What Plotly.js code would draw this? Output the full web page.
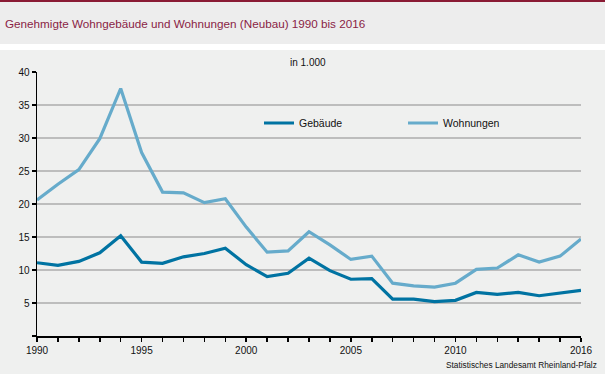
<!DOCTYPE html>
<html>
<head>
<meta charset="utf-8">
<script src="https://cdn.plot.ly/plotly-3.0.1.min.js"></script>
<style>html,body{margin:0;padding:0;background:#fff;}#chart{width:605px;height:374px;}</style>
</head>
<body>
<div id="chart"></div>
<script>
const years = [1990,1991,1992,1993,1994,1995,1996,1997,1998,1999,2000,2001,2002,2003,2004,2005,2006,2007,2008,2009,2010,2011,2012,2013,2014,2015,2016];
const gebaeude = [11.1,10.7,11.3,12.6,15.2,11.2,11.0,12.0,12.5,13.3,10.8,9.0,9.5,11.8,9.9,8.6,8.7,5.6,5.6,5.2,5.4,6.6,6.3,6.6,6.1,6.5,6.9];
const wohnungen = [20.6,23.0,25.2,29.9,37.5,27.8,21.8,21.7,20.2,20.8,16.5,12.7,12.9,15.8,13.8,11.6,12.1,8.0,7.6,7.4,8.0,10.1,10.3,12.3,11.2,12.1,14.7];
const seriesNames = ["Gebäude","Wohnungen"];
const xTickVals = [1990,1995,2000,2005,2010,2016];
const xTickText = ["1990","1995","2000","2005","2010","2016"];
const yTickVals = [0,5,10,15,20,25,30,35,40];
const yTickText = ["","5","10","15","20","25","30","35","40"];
const titleText = "Genehmigte Wohngebäude und Wohnungen (Neubau) 1990 bis 2016";
const unitText = "in 1.000";
const sourceText = "Statistisches Landesamt Rheinland-Pfalz";

const FONT = "Liberation Sans, Arial, sans-serif";
// pixel helpers (plot area: x 37..581, y 72..336)
const L = 37, R = 581, T = 72, B = 336;
const px = x => (x - L) / (R - L);
const py = y => (B - y) / (B - T);

const traces = [
  {x: years, y: gebaeude, name: seriesNames[0], type: 'scatter', mode: 'lines',
   line: {color: '#0073A2', width: 3.2}, legend: 'legend'},
  {x: years, y: wohnungen, name: seriesNames[1], type: 'scatter', mode: 'lines',
   line: {color: '#66ABCB', width: 3.2}, legend: 'legend2'}
];

const layout = {
  width: 605, height: 374,
  margin: {l: L, r: 605 - R, t: T, b: 374 - B, pad: 0},
  paper_bgcolor: '#EFF0EF',
  plot_bgcolor: 'rgba(0,0,0,0)',
  font: {family: FONT, size: 10, color: '#111'},
  showlegend: true,
  legend: {orientation: 'h', x: px(259), xanchor: 'left', y: py(123), yanchor: 'middle',
           bgcolor: 'rgba(0,0,0,0)', font: {family: FONT, size: 10.5, color: '#111'},
           itemwidth: 30, traceorder: 'normal'},
  legend2: {orientation: 'h', x: px(403), xanchor: 'left', y: py(123), yanchor: 'middle',
           bgcolor: 'rgba(0,0,0,0)', font: {family: FONT, size: 10.5, color: '#111'},
           itemwidth: 30},
  xaxis: {
    range: [1990, 2016], showgrid: false, zeroline: false,
    showline: true, linecolor: '#000', linewidth: 1.5,
    tickmode: 'array', tickvals: xTickVals, ticktext: xTickText,
    ticks: 'outside', ticklen: 4, tickcolor: '#000', tickwidth: 1.5,
    minor: {tickmode: 'linear', tick0: 1990, dtick: 1, ticks: 'outside', ticklen: 4, tickcolor: '#000', tickwidth: 1.5, showgrid: false},
    tickfont: {family: FONT, size: 10, color: '#111'}, fixedrange: true
  },
  yaxis: {
    range: [0, 40], zeroline: false,
    showline: true, linecolor: '#000', linewidth: 1.5,
    showgrid: true, gridcolor: '#BDBDBD', gridwidth: 1.5,
    tickmode: 'array', tickvals: yTickVals, ticktext: yTickText,
    ticks: 'outside', ticklen: 4, tickcolor: '#000', tickwidth: 1.5,
    tickfont: {family: FONT, size: 10, color: '#111'}, fixedrange: true
  },
  shapes: [
    {type: 'rect', xref: 'paper', yref: 'paper', x0: px(-5), x1: px(610), y0: py(44), y1: py(-5),
     fillcolor: '#EDEDED', line: {width: 0}, layer: 'below'},
    {type: 'rect', xref: 'paper', yref: 'paper', x0: px(-5), x1: px(610), y0: py(50), y1: py(44),
     fillcolor: '#FFFFFF', line: {width: 0}, layer: 'below'},
    {type: 'rect', xref: 'paper', yref: 'paper', x0: px(-5), x1: px(610), y0: py(2), y1: py(-5),
     fillcolor: '#8A1B34', line: {width: 0}, layer: 'below'}
  ],
  annotations: [
    {text: titleText, xref: 'paper', yref: 'paper', x: px(3), y: py(23), xanchor: 'left', yanchor: 'middle',
     showarrow: false, font: {family: FONT, size: 11.7, color: '#8A1E45'}},
    {text: unitText, xref: 'paper', yref: 'paper', x: px(308), y: py(63), xanchor: 'center', yanchor: 'middle',
     showarrow: false, font: {family: FONT, size: 10, color: '#111'}},
    {text: sourceText, xref: 'paper', yref: 'paper', x: px(599), y: py(365), xanchor: 'right', yanchor: 'middle',
     showarrow: false, font: {family: FONT, size: 8.3, color: '#111'}}
  ]
};

Plotly.newPlot('chart', traces, layout, {displayModeBar: false, staticPlot: true});
</script>
</body>
</html>
